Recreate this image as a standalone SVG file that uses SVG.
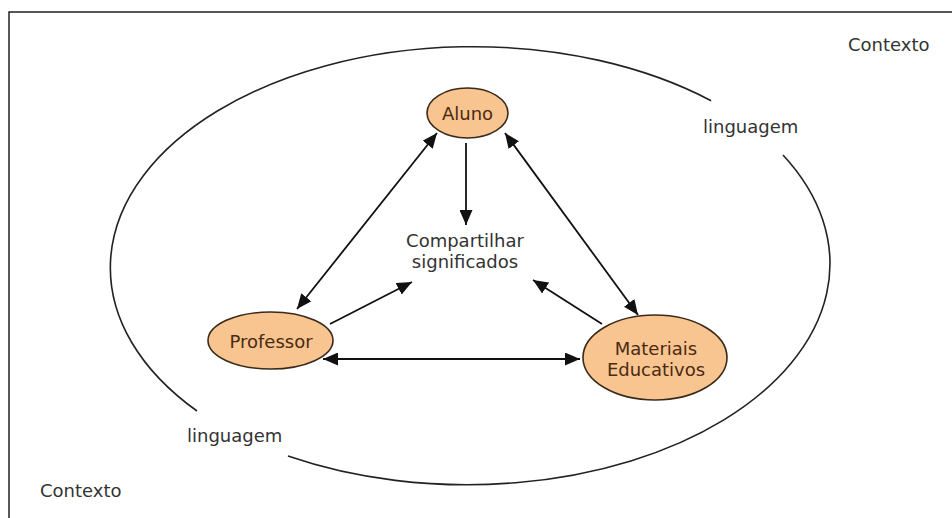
<svg xmlns="http://www.w3.org/2000/svg" width="952" height="518" viewBox="0 0 952 518">
<style>
.lbl{font-family:"DejaVu Sans","Liberation Sans",sans-serif;font-size:18px;fill:#333}
.ntxt{font-family:"DejaVu Sans","Liberation Sans",sans-serif;font-size:18px;fill:#4a2a12;text-anchor:middle}
.node{fill:#f8c590;stroke:#3a2a1a;stroke-width:1.6}
.con{stroke:#111;stroke-width:1.8;fill:none}
.ring{stroke:#222;stroke-width:1.6;fill:none}
</style>
<defs>
<marker id="ah" markerUnits="userSpaceOnUse" markerWidth="15" markerHeight="13" refX="15" refY="6.5" orient="auto-start-reverse">
<path d="M0,0 L15,6.5 L0,13 z" fill="#111"/>
</marker>
</defs>
<rect width="952" height="518" fill="#fff"/>
<rect x="9" y="12" width="960" height="520" fill="none" stroke="#222" stroke-width="1.5"/>
<g id="contexto">
<path class="ring" d="M 711.1 100.7 A 363 221 0 0 0 197 411"/>
<path class="ring" d="M 288 456 A 363 221 0 0 0 783 155"/>
<text class="lbl" x="848" y="51">Contexto</text>
<text class="lbl" x="40" y="497">Contexto</text>
<text class="lbl" x="703" y="133">linguagem</text>
<text class="lbl" x="187" y="442">linguagem</text>
</g>
<g id="connectors">
<path class="con" d="M 437 133 L 297 309" marker-start="url(#ah)" marker-end="url(#ah)"/>
<path class="con" d="M 505 133 L 638 315" marker-start="url(#ah)" marker-end="url(#ah)"/>
<path class="con" d="M 466 143 L 466 225" marker-end="url(#ah)"/>
<path class="con" d="M 330 324 L 412 282" marker-end="url(#ah)"/>
<path class="con" d="M 602 324 L 533 280" marker-end="url(#ah)"/>
<path class="con" d="M 323 359 L 580 359" marker-start="url(#ah)" marker-end="url(#ah)"/>
</g>
<g id="aluno">
<ellipse class="node" cx="467.5" cy="113" rx="40.5" ry="25"/>
<text class="ntxt" x="467.5" y="120" font-size="17">Aluno</text>
</g>
<g id="professor">
<ellipse class="node" cx="270.5" cy="340.5" rx="62.5" ry="28.5"/>
<text class="ntxt" x="271" y="348">Professor</text>
</g>
<g id="materiais">
<ellipse class="node" cx="655" cy="357.5" rx="72" ry="42.5"/>
<text class="ntxt" x="656" y="355">Materiais</text>
<text class="ntxt" x="656" y="376">Educativos</text>
</g>
<g id="compartilhar">
<text class="lbl" x="465" y="247" text-anchor="middle">Compartilhar</text>
<text class="lbl" x="465" y="268" text-anchor="middle">significados</text>
</g>
</svg>
